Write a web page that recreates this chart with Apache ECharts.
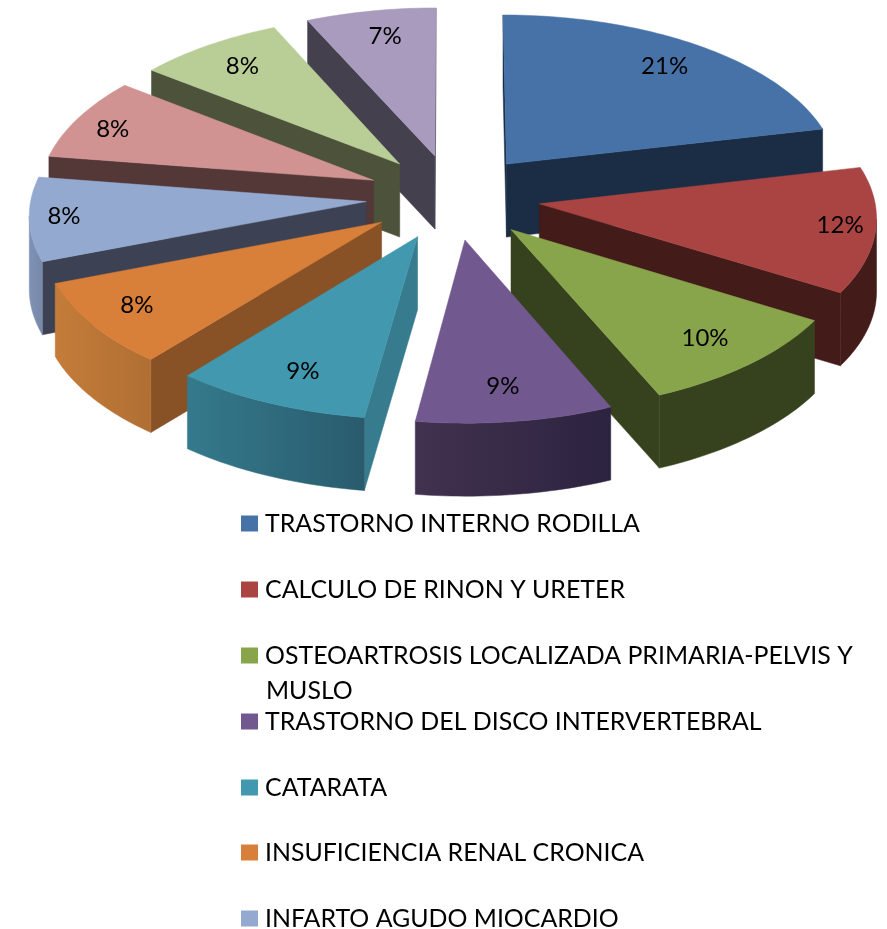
<!DOCTYPE html>
<html>

<head>
    <meta charset="utf-8">
    <title>Pie 3D</title>
    <script src="https://cdn.jsdelivr.net/npm/echarts@6/dist/echarts.min.js"></script>
    <style>
        html, body { margin: 0; padding: 0; background: #fff; }
    </style>
</head>

<body>
    <div id="chartmain" style="width:887px; height:929px;"></div>
    <script type="text/javascript">
        // the picture is cut off after the 7th legend row, so only 7 names are readable
        var categories = [
            'TRASTORNO INTERNO RODILLA',
            'CALCULO DE RINON Y URETER',
            'OSTEOARTROSIS LOCALIZADA PRIMARIA-PELVIS Y MUSLO',
            'TRASTORNO DEL DISCO INTERVERTEBRAL',
            'CATARATA',
            'INSUFICIENCIA RENAL CRONICA',
            'INFARTO AGUDO MIOCARDIO'
        ];
        // estimated from the slice edges, labels show them rounded
        var percents = [21.4, 12.3, 9.8, 8.7, 8.7, 8.3, 8.2, 8.1, 7.7, 6.8];

        // colours per slice: top face, cut face, outer wall left/right
        var topColors = ['#4672A8', '#A94442', '#89A54B', '#71588F', '#4198AF', '#D87F3A', '#93A9CF', '#D19392', '#B9CD96', '#A99BBD'];
        var cutColors = ['#1B2D45', '#431B19', '#36421E', '#3F3050', '#367B8E', '#885126', '#3C4253', '#543838', '#4C533A', '#44404E'];
        var wallLeft = ['#1B2D45', '#431B19', '#36421E', '#41324F', '#347A8C', '#C47C39', '#8093B5', '#543838', '#4C533A', '#44404E'];
        var wallRight = ['#1B2D45', '#431B19', '#36421E', '#2C2340', '#295B6D', '#B06F33', '#7788A8', '#543838', '#4C533A', '#44404E'];

        // back to front
        var drawOrder = [0, 9, 8, 7, 6, 1, 5, 2, 4, 3];

        // projection of the tilted pie
        var view = { cx: 453, cy: 197, rx: 335, ry: 164, persp: 0.07, depth: 73, explode: 0.26 };
        var fontName = 'Lato, Carlito, Calibri, sans-serif';

        function project(u, v, z) {
            var w = 1 + view.persp * v;
            return [view.cx + view.rx * u / w, view.cy - view.ry * v / w + z * view.depth];
        }

        function polar(a, r, mid) {
            return [
                view.explode * Math.sin(mid) + r * Math.sin(a),
                view.explode * Math.cos(mid) + r * Math.cos(a)
            ];
        }

        function sliceItem(index) {
            return function (params, api) {
                var a0 = api.value(0) * 2 * Math.PI;
                var a1 = api.value(1) * 2 * Math.PI;
                var mid = (a0 + a1) / 2;
                var apex = polar(0, 0, mid);
                var rim = [];
                var n = Math.ceil((a1 - a0) / 0.02);
                for (var i = 0; i <= n; i++) {
                    rim.push(polar(a0 + (a1 - a0) * i / n, 1, mid));
                }

                var children = [];
                function wall(pts, fill) {
                    var upper = pts.map(function (p) { return project(p[0], p[1], 0); });
                    var lower = pts.map(function (p) { return project(p[0], p[1], 1); }).reverse();
                    children.push({
                        type: 'polygon',
                        shape: { points: upper.concat(lower) },
                        style: { fill: fill, stroke: fill, lineWidth: 0.5 }
                    });
                }
                function facing(p, q) {
                    return project(q[0], q[1], 0)[0] < project(p[0], p[1], 0)[0];
                }

                // a border walked clockwise that runs leftwards looks at the viewer
                if (facing(apex, rim[0])) wall([apex, rim[0]], cutColors[index]);
                if (facing(rim[n], apex)) wall([rim[n], apex], cutColors[index]);
                var run = [];
                for (var j = 0; j < n; j++) {
                    if (facing(rim[j], rim[j + 1])) {
                        if (!run.length) run.push(rim[j]);
                        run.push(rim[j + 1]);
                    }
                }
                if (run.length) {
                    wall(run, new echarts.graphic.LinearGradient(0, 0, 1, 0, [
                        { offset: 0, color: wallLeft[index] },
                        { offset: 1, color: wallRight[index] }
                    ]));
                }

                var face = [apex].concat(rim).map(function (p) { return project(p[0], p[1], 0); });
                children.push({
                    type: 'polygon',
                    shape: { points: face },
                    style: { fill: topColors[index], stroke: topColors[index], lineWidth: 0.5 }
                });

                var su = Math.sin(mid), cv = Math.cos(mid);
                var lp = project(
                    apex[0] + (0.76 + 0.14 * su * su) * su,
                    apex[1] + 0.82 * cv, 0);
                children.push({
                    type: 'text',
                    style: {
                        x: lp[0], y: lp[1], text: Math.round(api.value(2)) + '%',
                        textAlign: 'center', textVerticalAlign: 'middle',
                        fontSize: 24, fontFamily: fontName, fill: '#000'
                    }
                });
                return { type: 'group', children: children };
            };
        }

        var total = percents.reduce(function (s, p) { return s + p; }, 0);
        var running = 0;
        var series = percents.map(function (p, i) {
            var start = running / total;
            running += p;
            return {
                type: 'custom',
                name: categories[i] || ('slice ' + (i + 1)),
                coordinateSystem: 'none',
                silent: true,
                z: 2 + drawOrder.indexOf(i),
                itemStyle: { color: topColors[i] },
                data: [[start, running / total, p]],
                renderItem: sliceItem(i)
            };
        });

        var legendTops = [523, 589, 655, 721, 787, 852, 918];
        var legends = categories.map(function (name, i) {
            return {
                data: [name],
                left: 241,
                top: legendTops[i] - 12,
                padding: 0,
                orient: 'vertical',
                icon: 'rect',
                itemWidth: 17,
                itemHeight: 16,
                selectedMode: false,
                formatter: function (n) { return n.replace(' MUSLO', ''); },
                textStyle: { fontSize: 24.9, fontFamily: fontName, color: '#000', padding: [1, 0, 0, 2] }
            };
        });

        var option = {
            animation: false,
            backgroundColor: '#fff',
            legend: legends,
            // second line of the wrapped legend row
            graphic: [{
                type: 'text',
                left: 266,
                top: 678,
                style: { text: 'MUSLO', fontSize: 24.9, fontFamily: fontName, fill: '#000' }
            }],
            series: series
        };

        var myChart = echarts.init(document.getElementById('chartmain'));
        myChart.setOption(option);
    </script>
</body>

</html>
